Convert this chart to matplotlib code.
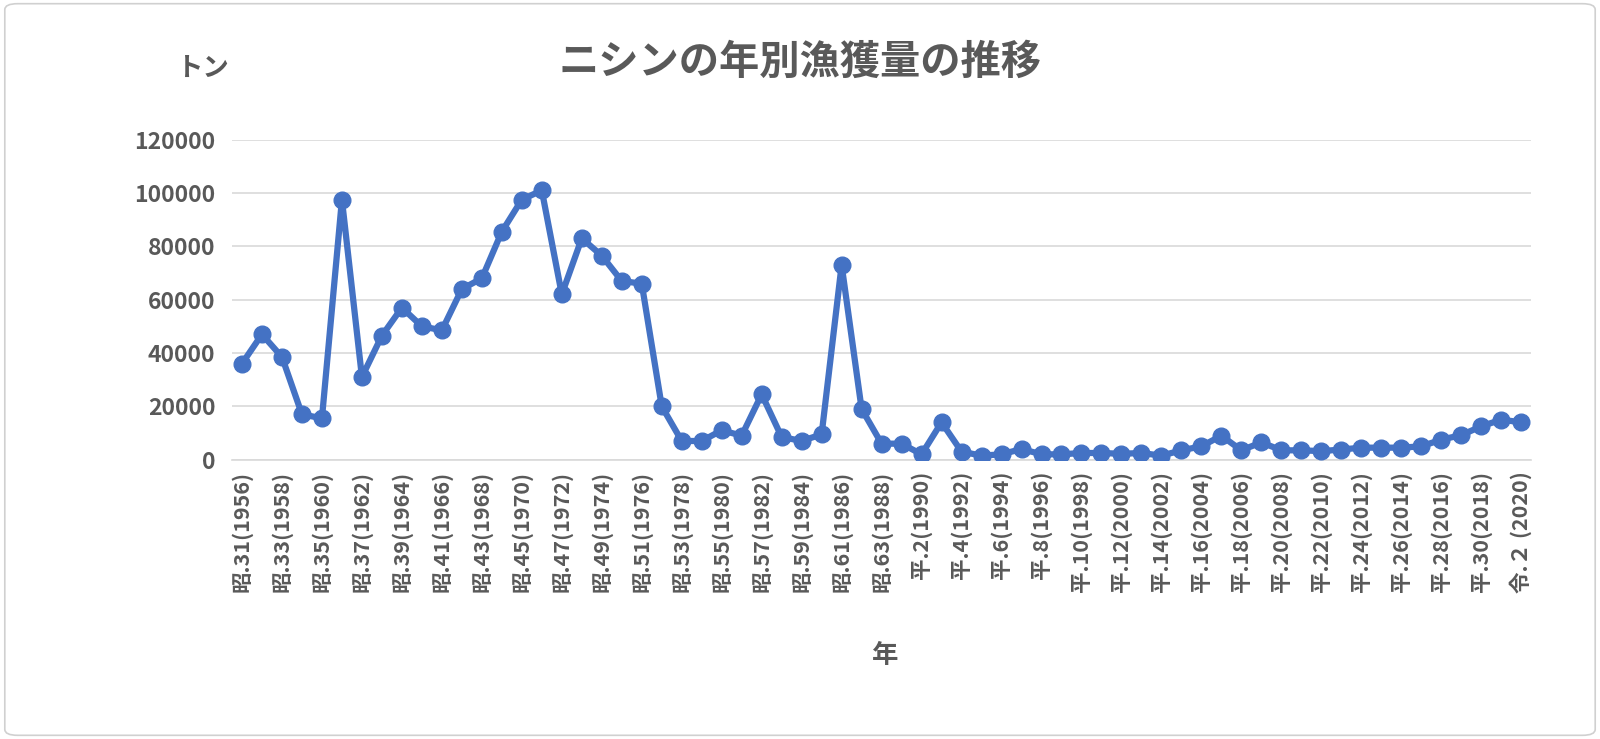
import matplotlib.pyplot as plt
from matplotlib.patches import FancyBboxPatch

plt.rcParams['font.family'] = 'Noto Sans CJK JP'

YEARS = list(range(1956, 2021))
CATCH = [36000, 47000, 38500, 17000, 15500, 97500, 31000, 46500, 57000, 50000,
         48500, 64000, 68000, 85500, 97500, 101000, 62000, 83000, 76500, 67000,
         66000, 20000, 7000, 7000, 11000, 9000, 24500, 8500, 7000, 9500,
         73000, 19000, 6000, 6000, 2000, 14000, 3000, 1500, 2000, 4000,
         2000, 2000, 2500, 2500, 2200, 2500, 1500, 3500, 5000, 9000,
         3500, 6500, 3500, 3500, 3200, 3800, 4500, 4500, 4500, 5000,
         7500, 9200, 12500, 15000, 14000]


def era_label(y):
    if y <= 1988:
        return '昭.%d(%d)' % (y - 1925, y)
    if y <= 2018:
        return '平.%d(%d)' % (y - 1988, y)
    return '令.２ (%d)' % y


LABELS = [era_label(y) if (y - 1956) % 2 == 0 else '' for y in YEARS]

grey = '#595959'
fig = plt.figure(figsize=(16, 7.39), dpi=100)
fig.patches.append(FancyBboxPatch((0.003, 0.005), 0.994, 0.99, boxstyle='round,pad=0,rounding_size=0.008',
                                  transform=fig.transFigure, fill=False, edgecolor='#d0d0d0', lw=1.2))
ax = fig.add_axes([0.145, 0.378, 0.812, 0.433])
x = list(range(len(YEARS)))
ax.plot(x, CATCH, color='#4472C4', lw=4.5, marker='o', ms=12, zorder=3)
ax.set_xlim(-0.5, len(YEARS) - 0.5)
ax.set_ylim(0, 120000)
ax.set_yticks(range(0, 120001, 20000))
ax.grid(axis='y', color='#d9d9d9', lw=1.2)
ax.set_axisbelow(True)
for s in ['top', 'right', 'left']:
    ax.spines[s].set_visible(False)
ax.spines['bottom'].set_color('#d9d9d9')
ax.spines['bottom'].set_linewidth(1.2)
ax.tick_params(axis='y', length=0, labelsize=16.5, labelcolor=grey, pad=12)
ax.tick_params(axis='x', length=0, labelsize=15.5, labelcolor=grey, pad=8)
ax.set_xticks(x)
ax.set_xticklabels(LABELS, rotation=90)
for t in ax.get_xticklabels() + ax.get_yticklabels():
    t.set_fontweight('bold')

fig.text(0.5, 0.915, 'ニシンの年別漁獲量の推移', ha='center', va='center', fontsize=29, color=grey, fontweight='bold')
fig.text(0.127, 0.908, 'トン', ha='center', va='center', fontsize=19, color=grey, fontweight='bold')
fig.text(0.553, 0.113, '年', ha='center', va='center', fontsize=19, color=grey, fontweight='bold')

fig.savefig('out.png', dpi=100)
